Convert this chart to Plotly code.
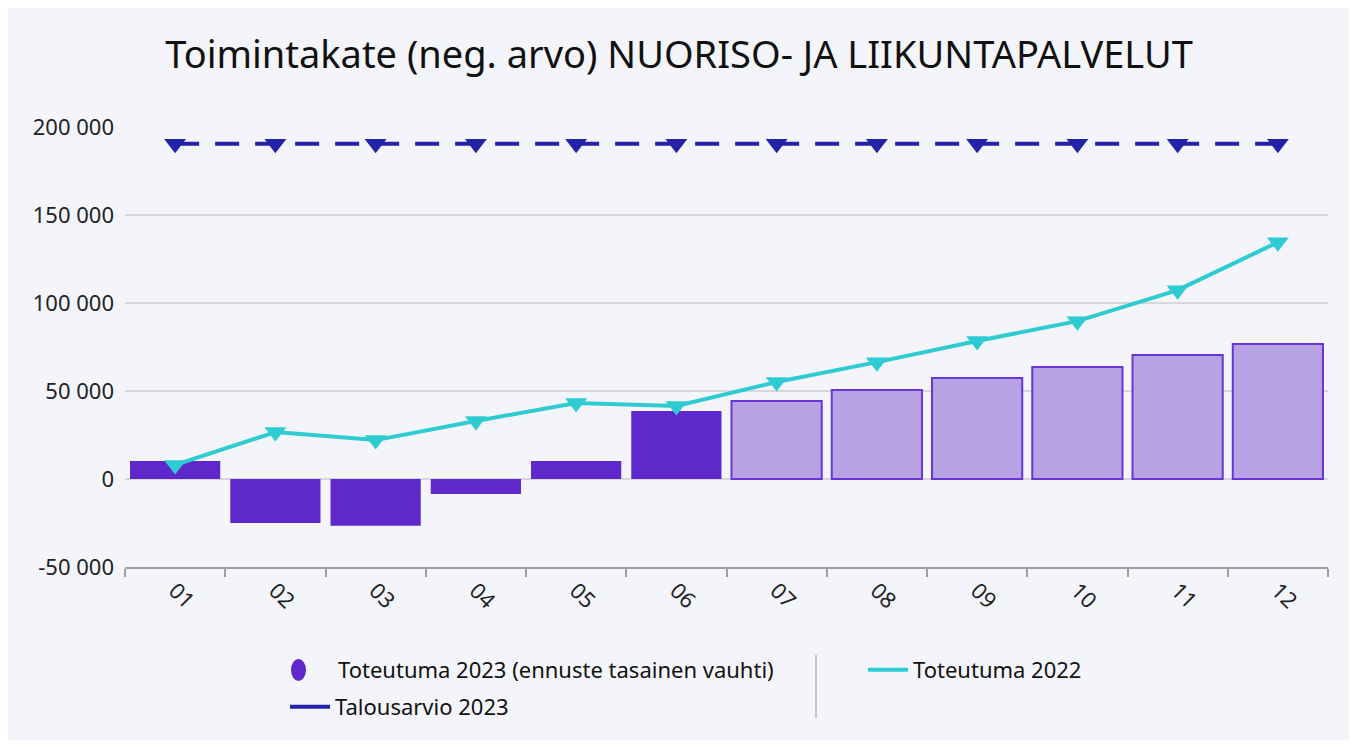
import plotly.graph_objects as go

months = ["01", "02", "03", "04", "05", "06", "07", "08", "09", "10", "11", "12"]
toteutuma_2023 = [10200, -25000, -26500, -8500, 10200, 38600, 44300, 50500, 57400, 63600, 70400, 76700]
is_forecast = [False, False, False, False, False, False, True, True, True, True, True, True]
toteutuma_2022 = [8000, 26700, 22100, 33000, 43200, 41500, 55100, 66400, 78400, 89700, 107300, 134500]
talousarvio_2023 = [190500] * 12
y_tick_vals = [-50000, 0, 50000, 100000, 150000, 200000]
y_tick_text = ["-50 000", "0", "50 000", "100 000", "150 000", "200 000"]

C_SOLID = "#5F28CA"
C_LIGHT = "#B7A2E4"
C_LIGHT_LINE = "#6A35D6"
C_CYAN = "#2ECCD2"
C_NAVY = "#2323A8"
BG = "#F4F5FA"
FONT = "Noto Sans"

fig = go.Figure()

fig.add_trace(go.Bar(
    x=months, y=toteutuma_2023,
    marker=dict(
        color=[C_LIGHT if f else C_SOLID for f in is_forecast],
        line=dict(color=[C_LIGHT_LINE if f else C_SOLID for f in is_forecast],
                  width=[2 if f else 0 for f in is_forecast]),
    ),
    width=0.9, showlegend=False, name="Toteutuma 2023 (ennuste tasainen vauhti)",
))

fig.add_trace(go.Scatter(
    x=months, y=toteutuma_2022, mode="lines+markers",
    line=dict(color=C_CYAN, width=4),
    marker=dict(symbol="triangle-down", size=19, color=C_CYAN),
    showlegend=False, name="Toteutuma 2022",
))

fig.add_trace(go.Scatter(
    x=months, y=talousarvio_2023, mode="lines+markers",
    line=dict(color=C_NAVY, width=4, dash="24px,16px"),
    marker=dict(symbol="triangle-down", size=19, color=C_NAVY),
    showlegend=False, name="Talousarvio 2023",
))

# legend entries (the oval symbol for the bars is drawn as a shape below)
fig.add_trace(go.Scatter(x=[None], y=[None], mode="markers",
                         marker=dict(symbol="circle", size=16, color="rgba(0,0,0,0)"),
                         name="Toteutuma 2023 (ennuste tasainen vauhti)", legend="legend"))
fig.add_trace(go.Scatter(x=[None], y=[None], mode="lines",
                         line=dict(color=C_NAVY, width=4),
                         name="Talousarvio 2023", legend="legend2"))
fig.add_trace(go.Scatter(x=[None], y=[None], mode="lines",
                         line=dict(color=C_CYAN, width=4),
                         name="Toteutuma 2022", legend="legend3"))

# page body adds an 8px offset; work in screen coordinates and subtract it
OFF = 8
W, H = 1357 - OFF, 747 - OFF
L, T = 125 - OFF, 127 - OFF
R = W - (1328 - OFF)
B = H - (567 - OFF)
pw, ph = W - L - R, H - T - B


def px(xs):
    return (xs - OFF - L) / pw


def py(ys):
    return (H - B - (ys - OFF)) / ph


leg_common = dict(orientation="v", bgcolor="rgba(0,0,0,0)",
                  font=dict(size=22, color="#111111"), itemwidth=40,
                  xanchor="left", yanchor="middle")

fig.update_layout(
    width=W, height=H,
    margin=dict(l=L, r=R, t=T, b=B, autoexpand=False),
    paper_bgcolor="white", plot_bgcolor=BG,
    font=dict(family=FONT, size=22, color="#222222"),
    title=dict(text="Toimintakate (neg. arvo) NUORISO- JA LIIKUNTAPALVELUT",
               x=(679 - OFF) / W, xanchor="center", y=1 - (55 - OFF) / H, yanchor="middle",
               font=dict(family=FONT, size=38, color="#111111")),
    xaxis=dict(
        type="category", range=[-0.5, 11.5], tickangle=45, showgrid=False,
        showline=True, linecolor="#A0A0A0", linewidth=2,
        ticks="outside", tickson="boundaries", tickcolor="#A0A0A0", ticklen=8, tickwidth=2,
        tickfont=dict(size=22, color="#222222"),
    ),
    yaxis=dict(
        range=[-50000, 200000], tickvals=y_tick_vals, ticktext=y_tick_text,
        showgrid=True, gridcolor="#D6D6DC", gridwidth=1.5, zeroline=False,
        tickfont=dict(size=22, color="#222222"), ticklabelstandoff=10,
    ),
    legend=dict(x=px(288), y=py(670), **leg_common),
    legend2=dict(x=px(285), y=py(707), **leg_common),
    legend3=dict(x=px(863), y=py(670), **leg_common),
    shapes=[
        dict(type="rect", xref="paper", yref="paper",
             x0=px(0), x1=px(1352), y0=py(740), y1=py(0),
             fillcolor=BG, line=dict(width=0), layer="below"),
        dict(type="line", xref="paper", yref="paper",
             x0=px(816), x1=px(816), y0=py(655), y1=py(718),
             line=dict(color="#C8C8C8", width=2)),
        dict(type="circle", xref="paper", yref="paper",
             x0=px(291), x1=px(306), y0=py(681), y1=py(659),
             fillcolor=C_SOLID, line=dict(width=0)),
    ],
)

fig.write_html("out.html")
